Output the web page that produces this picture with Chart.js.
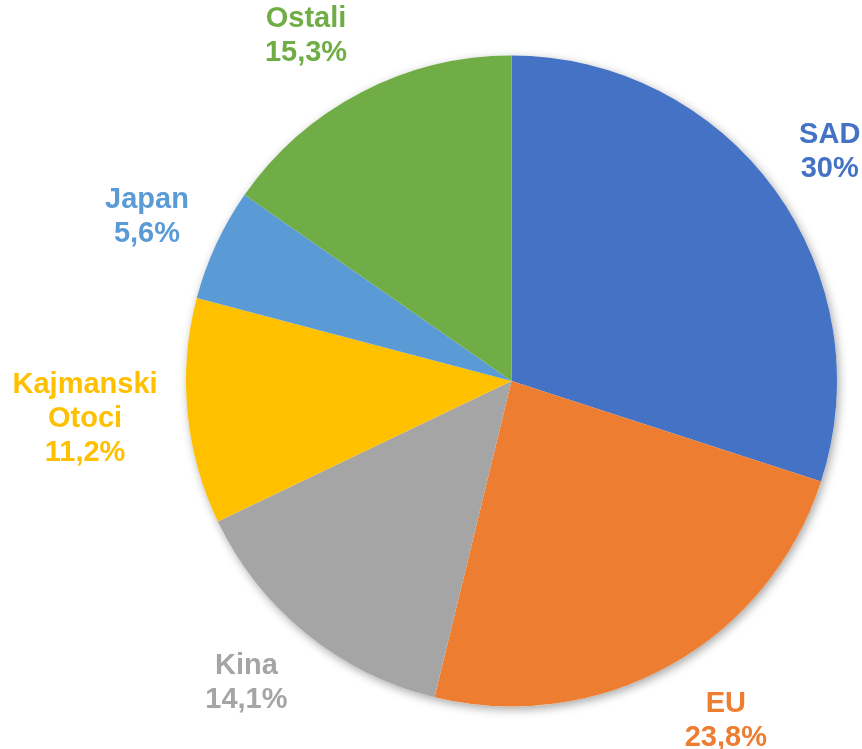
<!DOCTYPE html>
<html>
<head>
<meta charset="utf-8">
<script src="https://cdn.jsdelivr.net/npm/chart.js@4"></script>
<style>
  html, body { margin: 0; padding: 0; background: #fff; }
  #wrap { width: 862px; height: 749px; position: relative; }
</style>
</head>
<body>
<div id="wrap"><canvas id="pieChart"></canvas></div>
<script>
// chart data
const categories = ['SAD', 'EU', 'Kina', 'Kajmanski Otoci', 'Japan', 'Ostali'];
const shares = [30, 23.8, 14.1, 11.2, 5.6, 15.3];
const shareLabels = ['30%', '23,8%', '14,1%', '11,2%', '5,6%', '15,3%'];
const labelLines = [['SAD'], ['EU'], ['Kina'], ['Kajmanski', 'Otoci'], ['Japan'], ['Ostali']];
const sliceColors = ['#4472C4', '#ED7D31', '#A5A5A5', '#FFC000', '#5B9BD5', '#70AD47'];

const FONT = 'bold 29px "Liberation Sans", Arial, sans-serif';
const LINE_H = 34;
const GAP = 30;

// soft shadow under the whole pie
const pieShadow = {
  id: 'pieShadow',
  beforeDatasetsDraw(chart) {
    const arc = chart.getDatasetMeta(0).data[0];
    if (!arc) return;
    const { x, y, outerRadius } = arc.getProps(['x', 'y', 'outerRadius'], true);
    const ctx = chart.ctx;
    ctx.save();
    ctx.shadowColor = 'rgba(0,0,0,0.35)';
    ctx.shadowBlur = 10;
    ctx.shadowOffsetX = 2;
    ctx.shadowOffsetY = 3;
    ctx.fillStyle = '#fff';
    ctx.beginPath();
    ctx.arc(x, y, outerRadius, 0, Math.PI * 2);
    ctx.fill();
    ctx.restore();
  }
};

// outside labels, coloured like their slice
const outsideLabels = {
  id: 'outsideLabels',
  afterDatasetsDraw(chart) {
    const ctx = chart.ctx;
    const meta = chart.getDatasetMeta(0);
    ctx.save();
    ctx.font = FONT;
    ctx.textAlign = 'center';
    ctx.textBaseline = 'middle';
    meta.data.forEach((arc, i) => {
      const p = arc.getProps(['x', 'y', 'startAngle', 'endAngle', 'outerRadius'], true);
      const mid = (p.startAngle + p.endAngle) / 2;
      const lines = labelLines[i].concat([shareLabels[i]]);
      const w = Math.max(...lines.map(t => ctx.measureText(t).width));
      const h = lines.length * LINE_H;
      const cos = Math.cos(mid), sin = Math.sin(mid);
      // anchor just outside the rim, box pushed away to its side
      const ax = p.x + (p.outerRadius + GAP) * cos;
      const ay = p.y + (p.outerRadius + GAP) * sin;
      const cx = ax + Math.sign(cos) * w / 2;
      const cy = ay + sin * h / 2;
      ctx.fillStyle = sliceColors[i];
      lines.forEach((t, k) => {
        ctx.fillText(t, cx, cy - h / 2 + LINE_H * (k + 0.5));
      });
    });
    ctx.restore();
  }
};

new Chart(document.getElementById('pieChart'), {
  type: 'pie',
  data: {
    labels: categories,
    datasets: [{
      data: shares,
      backgroundColor: sliceColors,
      borderWidth: 0
    }]
  },
  options: {
    responsive: true,
    maintainAspectRatio: false,
    animation: false,
    layout: { padding: { left: 186, right: 25, top: 55, bottom: 42 } },
    plugins: {
      legend: { display: false },
      tooltip: { enabled: false }
    }
  },
  plugins: [pieShadow, outsideLabels]
});
</script>
</body>
</html>
